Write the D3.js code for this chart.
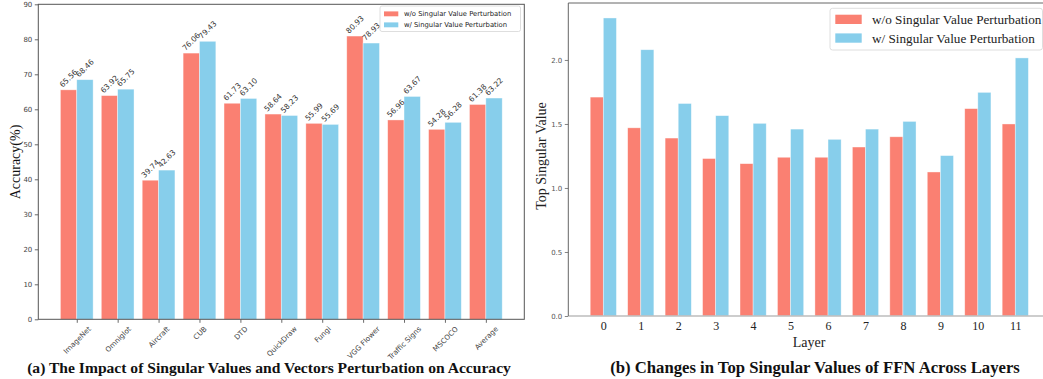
<!DOCTYPE html>
<html>
<head>
<meta charset="utf-8">
<script src="https://cdn.jsdelivr.net/npm/d3@7"></script>
<style>
  body { margin: 0; background: #fff; }
  svg { display: block; }
  .tick text { fill: #444; }
</style>
</head>
<body>
<svg id="chart" width="1043" height="379"></svg>
<script>
// (a) accuracy per dataset
const datasets = ['ImageNet', 'Omniglot', 'Aircraft', 'CUB', 'DTD', 'QuickDraw', 'Fungi', 'VGG Flower', 'Traffic Signs', 'MSCOCO', 'Average'];
const accWithout = [65.56, 63.92, 39.74, 76.06, 61.73, 58.64, 55.99, 80.93, 56.96, 54.28, 61.38];
const accWith = [68.46, 65.75, 42.63, 79.43, 63.10, 58.23, 55.69, 78.93, 63.67, 56.28, 63.22];
const accTicks = [0, 10, 20, 30, 40, 50, 60, 70, 80, 90];

// (b) top singular value per layer
const layers = [0, 1, 2, 3, 4, 5, 6, 7, 8, 9, 10, 11];
const svWithout = [1.71, 1.47, 1.39, 1.23, 1.19, 1.24, 1.24, 1.32, 1.40, 1.125, 1.62, 1.50];
const svWith = [2.328, 2.08, 1.66, 1.565, 1.505, 1.46, 1.38, 1.46, 1.52, 1.253, 1.747, 2.016];
const svTicks = [0, 0.5, 1.0, 1.5, 2.0];

const seriesNames = ['w/o Singular Value Perturbation', 'w/ Singular Value Perturbation'];
const colors = ['#FA8072', '#87CEEB'];

const svg = d3.select('#chart');
const SANS = 'DejaVu Sans', SERIF = 'Liberation Serif';

function drawBars(g, x, y, vals, offset, w, color) {
  g.selectAll(null)
    .data(vals)
    .enter()
    .append('rect')
    .attr('x', (d, i) => x(i + offset))
    .attr('width', (d, i) => x(i + offset + w) - x(i + offset))
    .attr('y', d => y(d))
    .attr('height', d => y(0) - y(d))
    .attr('fill', color)
    .attr('stroke', '#fff')
    .attr('stroke-opacity', 0.55)
    .attr('stroke-width', 0.7);
}

// ---------- left chart ----------
const xa = d3.scaleLinear().domain([-0.94, 10.94]).range([38.3, 524.3]);
const ya = d3.scaleLinear().domain([0, 90]).range([319.3, 4.3]);
const ga = svg.append('g');

drawBars(ga, xa, ya, accWithout, -0.4, 0.4, colors[0]);
drawBars(ga, xa, ya, accWith, 0, 0.4, colors[1]);

// value labels, rotated 45 deg, sitting just above the bar
[[accWithout, -0.2], [accWith, 0.2]].forEach(([vals, off]) => {
  vals.forEach((v, i) => {
    const t = ga.append('text')
      .attr('font-family', SANS)
      .attr('font-size', 7.5)
      .attr('fill', '#333')
      .attr('text-anchor', 'middle')
      .attr('dominant-baseline', 'central')
      .text(v.toFixed(2));
    const len = t.node().getComputedTextLength();
    const half = (len + 8) / Math.SQRT2 / 2;
    const cx = xa(i + off), cy = ya(v) - 1 - half;
    t.attr('transform', `translate(${cx},${cy}) rotate(-45)`);
  });
});

const axA = ga.append('g')
  .attr('transform', `translate(38.3,0)`)
  .call(d3.axisLeft(ya).tickValues(accTicks).tickSize(3.5).tickPadding(2.5));
axA.select('.domain').remove();
axA.selectAll('line').attr('stroke', '#444').attr('stroke-width', 0.8);
axA.selectAll('text').attr('font-family', SANS).attr('font-size', 7);

const axAx = ga.append('g')
  .attr('transform', `translate(0,319.3)`)
  .call(d3.axisBottom(xa).tickValues(d3.range(datasets.length)).tickFormat(i => datasets[i]).tickSize(3.5));
axAx.select('.domain').remove();
axAx.selectAll('line').attr('stroke', '#444').attr('stroke-width', 0.8);
axAx.selectAll('text')
  .attr('font-family', SANS).attr('font-size', 7.2)
  .attr('text-anchor', 'middle')
  .attr('dominant-baseline', 'central')
  .each(function () {
    const len = this.getComputedTextLength();
    const half = (len + 8) / Math.SQRT2 / 2;
    d3.select(this).attr('y', null).attr('dy', null)
      .attr('transform', `translate(0,${5.5 + half}) rotate(-45)`);
  });

ga.append('rect')
  .attr('x', 38.3).attr('y', 4.3)
  .attr('width', 524.3 - 38.3).attr('height', 319.3 - 4.3)
  .attr('fill', 'none').attr('stroke', '#555').attr('stroke-width', 1);

ga.append('text')
  .attr('transform', 'translate(15,162) rotate(-90)')
  .attr('text-anchor', 'middle').attr('dominant-baseline', 'central')
  .attr('font-family', SERIF).attr('font-size', 14)
  .attr('fill', '#111')
  .text('Accuracy(%)');

// legend (a)
const la = ga.append('g');
la.append('rect').attr('x', 380).attr('y', 6).attr('width', 140.5).attr('height', 25.5)
  .attr('rx', 2).attr('fill', '#fff').attr('fill-opacity', 0.8)
  .attr('stroke', '#d6d6d6').attr('stroke-width', 0.8);
seriesNames.forEach((s, k) => {
  const cy = 13.8 + k * 11;
  la.append('rect').attr('x', 384).attr('y', cy - 2.4).attr('width', 14.3).attr('height', 4.9).attr('fill', colors[k]);
  la.append('text').attr('x', 404).attr('y', cy).attr('dominant-baseline', 'central')
    .attr('font-family', SANS).attr('font-size', 6.8).attr('fill', '#222').text(s);
});

svg.append('text')
  .attr('x', 269).attr('y', 373)
  .attr('text-anchor', 'middle')
  .attr('font-family', SERIF).attr('font-weight', 'bold').attr('font-size', 15.6)
  .attr('fill', '#111')
  .text('(a) The Impact of Singular Values and Vectors Perturbation on Accuracy');

// ---------- right chart ----------
const xb = d3.scaleLinear().domain([-0.935, 11.935]).range([568.3, 1050.3]);
const yb = d3.scaleLinear().domain([0, 2.445]).range([316, 3]);
const gb = svg.append('g');

drawBars(gb, xb, yb, svWithout, -0.35, 0.35, colors[0]);
drawBars(gb, xb, yb, svWith, 0, 0.35, colors[1]);

const axB = gb.append('g')
  .attr('transform', `translate(568.3,0)`)
  .call(d3.axisLeft(yb).tickValues(svTicks).tickFormat(d3.format('.1f')).tickSize(3.5).tickPadding(2.5));
axB.select('.domain').remove();
axB.selectAll('line').attr('stroke', '#666').attr('stroke-width', 0.8);
axB.selectAll('text').attr('font-family', SANS).attr('font-size', 7).style('fill', '#555');

const axBx = gb.append('g')
  .attr('transform', `translate(0,316)`)
  .call(d3.axisBottom(xb).tickValues(layers).tickSize(0).tickPadding(5));
axBx.select('.domain').remove();
axBx.selectAll('text').attr('font-family', SERIF).attr('font-size', 12).style('fill', '#222');

gb.append('line').attr('x1', 568.3).attr('x2', 1043).attr('y1', 316).attr('y2', 316)
  .attr('stroke', '#bdbdbd').attr('stroke-width', 1.6);
gb.append('path')
  .attr('d', 'M568.3,316V3H1043')
  .attr('fill', 'none').attr('stroke', '#666').attr('stroke-width', 1);

gb.append('text')
  .attr('transform', 'translate(541.5,156) rotate(-90)')
  .attr('text-anchor', 'middle').attr('dominant-baseline', 'central')
  .attr('font-family', SERIF).attr('font-size', 14)
  .attr('fill', '#222')
  .text('Top Singular Value');

gb.append('text')
  .attr('x', 809).attr('y', 342)
  .attr('text-anchor', 'middle').attr('dominant-baseline', 'central')
  .attr('font-family', SERIF).attr('font-size', 14)
  .attr('fill', '#222')
  .text('Layer');

// legend (b)
const lb = gb.append('g');
lb.append('rect').attr('x', 830).attr('y', 8.3).attr('width', 212.5).attr('height', 41.7)
  .attr('rx', 2.5).attr('fill', '#fff').attr('fill-opacity', 0.8)
  .attr('stroke', '#d6d6d6').attr('stroke-width', 0.8);
seriesNames.forEach((s, k) => {
  const cy = 19.3 + k * 18.7;
  lb.append('rect').attr('x', 835.3).attr('y', cy - 4.6).attr('width', 26.4).attr('height', 9.3).attr('fill', colors[k]);
  lb.append('text').attr('x', 872).attr('y', cy).attr('dominant-baseline', 'central')
    .attr('font-family', SERIF).attr('font-size', 13.2).attr('fill', '#222').text(s);
});

svg.append('text')
  .attr('x', 815).attr('y', 373)
  .attr('text-anchor', 'middle')
  .attr('font-family', SERIF).attr('font-weight', 'bold').attr('font-size', 16.7)
  .attr('fill', '#111')
  .text('(b) Changes in Top Singular Values of FFN Across Layers');
</script>
</body>
</html>
